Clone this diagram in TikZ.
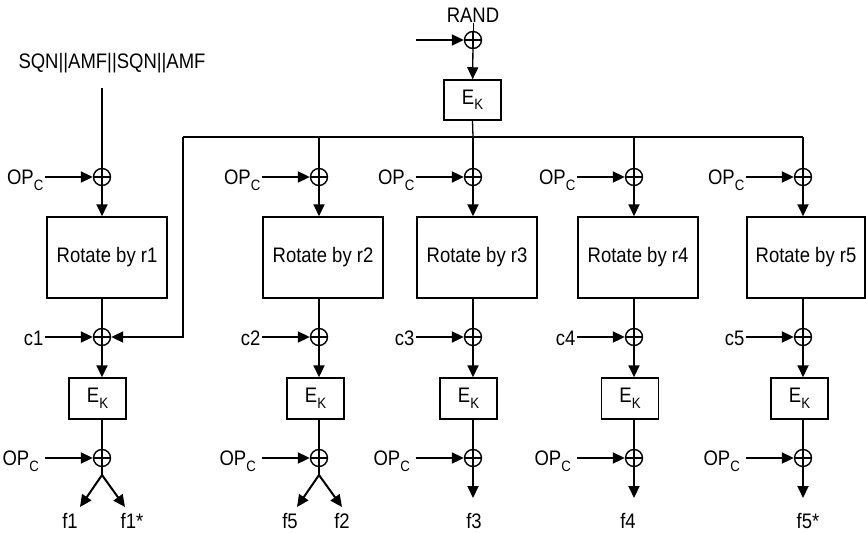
\documentclass[tikz,border=0pt]{standalone}
\usepackage{fontspec}
\setmainfont{Liberation Sans}[FakeStretch=0.88]
\usetikzlibrary{arrows.meta}
\newcommand{\EKtxt}{E\raisebox{-0.5ex}{\fontsize{15}{15}\selectfont K}}
\newcommand{\OPCtxt}{OP\raisebox{-0.55ex}{\fontsize{15}{15}\selectfont C}}
\begin{document}
\begin{tikzpicture}[x=1pt,y=-1pt,
  every node/.style={font=\fontsize{21}{24}\selectfont},
  lbl/.style={inner xsep=1.5pt,inner ysep=1pt},
  box/.style={draw,line width=1.5pt,inner sep=0pt},
  xor/.style={circle,draw,line width=1.4pt,minimum size=17pt,inner sep=0pt,
    path picture={\draw[line width=1.4pt] (path picture bounding box.north) -- (path picture bounding box.south)
      (path picture bounding box.west) -- (path picture bounding box.east);}},
  ln/.style={line width=2pt},
  arr/.style={line width=2pt,-{Triangle[length=12pt,width=11pt]}}]
\useasboundingbox (0,0) rectangle (866,532);

% top RAND part
\node[lbl] (rand) at (473,15) {RAND};
\node[xor] (xt) at (473,40) {};
\coordinate (tin) at (416,40);
\draw[arr] (tin) -- (xt);
\draw[line width=1pt] (rand.south) -- (xt.north);
\node[box,minimum width=57pt,minimum height=40pt] (ekt) at (472.5,100) {\EKtxt};
\draw[arr,line width=1.3pt] (xt) -- (ekt);

% bus
\coordinate (bl) at (183,137);
\coordinate (bl2) at (183,337);
\coordinate (b2) at (319,137);
\coordinate (b3) at (473,137);
\coordinate (b4) at (634,137);
\coordinate (b5) at (803,137);
\draw[ln] (bl) -- (b5);
\draw[line width=1.3pt] (ekt.south) -- (b3);

% SQN input
\node[lbl] (sqn) at (112,63) {SQN||AMF||SQN||AMF};
\coordinate (b1) at (102,88);

\foreach \i/\X/\rl/\rr/\el/\er in {1/102/47/167/69/126, 2/319/263/383/287/344, 3/473/417/537/440/497, 4/634/578/698/602/658, 5/803/747/865/771/828}{
  \node[xor] (xa\i) at (\X,177) {};
  \node[lbl,anchor=base east] (opa\i) at (\X-57,184) {\OPCtxt};
  \draw[arr] (opa\i.east |- xa\i) -- (xa\i);
  \draw[ln] (b\i) -- (xa\i.center);
  \node[box,minimum width={\rr-\rl},minimum height=81pt] (rot\i) at ({(\rl+\rr)/2},257.5) {Rotate by r\i};
  \draw[arr] (xa\i) -- (xa\i |- rot\i.north);
  \node[xor] (xc\i) at (\X,337) {};
  \node[lbl,anchor=base east] (cl\i) at (\X-57,345) {c\i};
  \draw[arr] (cl\i.east |- xc\i) -- (xc\i);
  \draw[ln] (xa\i |- rot\i.south) -- (xc\i.center);
  \node[box,minimum width=57pt,minimum height=41pt] (ek\i) at ({(\el+\er)/2},398.5) {\EKtxt};
  \draw[arr] (xc\i) -- (xc\i |- ek\i.north);
  \node[xor] (xb\i) at (\X,458) {};
  \draw[ln] (xc\i |- ek\i.south) -- (xb\i.center);
  \node[lbl,anchor=base east,inner xsep=6pt] (opb\i) at (\X-57,465) {\OPCtxt};
  \draw[arr] (opb\i.east |- xb\i) -- (xb\i);
}

\draw[arr] (bl) -- (bl2) -- (xc1);

% outputs
\coordinate (sp1) at (102,475);
\coordinate (sp2) at (319,475);
\coordinate (e1a) at (80,507);
\coordinate (e1b) at (125,507);
\coordinate (e2a) at (297,507);
\coordinate (e2b) at (342,507);
\draw[ln] (xb1.center) -- (sp1);
\draw[ln] (xb2.center) -- (sp2);
\draw[arr] (sp1) -- (e1a);
\draw[arr] (sp1) -- (e1b);
\draw[arr] (sp2) -- (e2a);
\draw[arr] (sp2) -- (e2b);
\node[lbl] (f1) at (70,521) {f1};
\node[lbl] (f1s) at (132,521) {f1*};
\node[lbl] (f5) at (290,521) {f5};
\node[lbl] (f2) at (342,521) {f2};
\coordinate (e3) at (473,498);
\coordinate (e4) at (634,498);
\coordinate (e5) at (803,498);
\draw[arr] (xb3) -- (e3);
\draw[arr] (xb4) -- (e4);
\draw[arr] (xb5) -- (e5);
\node[lbl] (f3) at (474,521) {f3};
\node[lbl] (f4) at (628,521) {f4};
\node[lbl] (f5s) at (808,521) {f5*};
\end{tikzpicture}
\end{document}
